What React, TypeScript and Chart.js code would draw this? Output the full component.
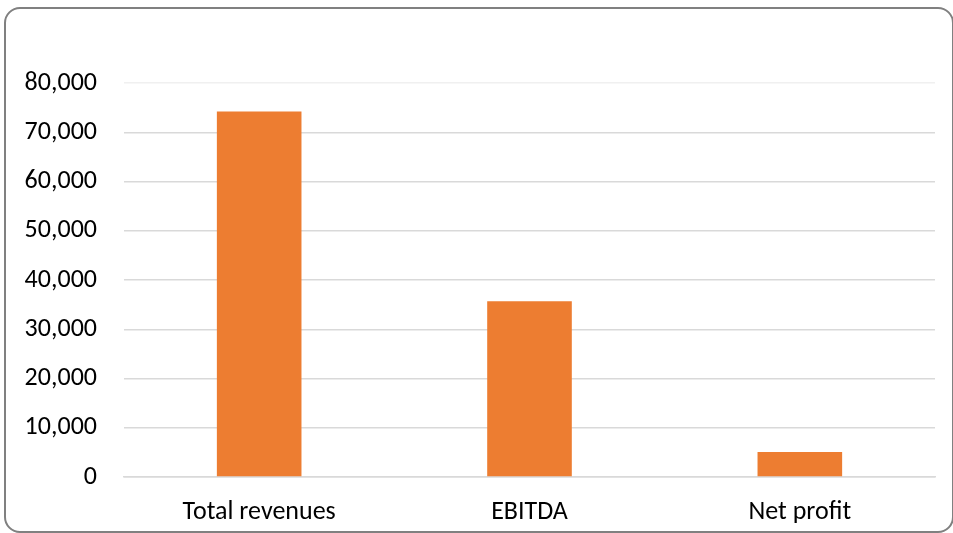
import React, { useEffect, useRef } from "react";
import { Chart, registerables } from "chart.js";

Chart.register(...registerables);

const categories: string[] = ["Total revenues", "EBITDA", "Net profit"];
const values: number[] = [74200, 35700, 5100];
const yMin = 0;
const yMax = 80000;
const yStep = 10000;

const FONT = "Calibri, Carlito, Lato, 'Liberation Sans', sans-serif";

export default function App() {
  const ref = useRef<HTMLCanvasElement | null>(null);

  useEffect(() => {
    if (!ref.current) return;
    const chart = new Chart(ref.current, {
      type: "bar",
      data: {
        labels: categories,
        datasets: [
          {
            data: values,
            backgroundColor: "#ED7D31",
            borderWidth: 0,
            barPercentage: 0.313,
            categoryPercentage: 1,
          },
        ],
      },
      options: {
        responsive: false,
        animation: false,
        devicePixelRatio: 1,
        layout: { padding: { top: 83, right: 18, left: 0, bottom: 0 } },
        plugins: {
          legend: { display: false },
          tooltip: { enabled: false },
          title: { display: false },
        },
        scales: {
          x: {
            grid: { display: false, drawTicks: false },
            border: { display: true, color: "#D9D9D9", width: 1.5 },
            ticks: {
              color: "#000000",
              padding: 20,
              font: { family: FONT, size: 26 },
            },
            afterFit: (s: any) => {
              s.height = 56;
            },
          },
          y: {
            min: yMin,
            max: yMax,
            grid: {
              color: (ctx: any) => (ctx.tick && ctx.tick.value === yMax ? "#F0F0F0" : "#D9D9D9"),
              lineWidth: 1.5,
              drawTicks: false,
            },
            border: { display: false },
            ticks: {
              stepSize: yStep,
              color: "#000000",
              padding: 27,
              font: { family: FONT, size: 26 },
              callback: (v: any) => Number(v).toLocaleString("en-US"),
            },
            afterFit: (s: any) => {
              s.width = 124;
            },
          },
        },
      },
    });
    return () => chart.destroy();
  }, []);

  return (
    <div style={{ position: "fixed", left: 0, top: 0, width: 953, height: 533, background: "#fff", overflow: "hidden" }}>
      <div
        style={{
          position: "absolute",
          left: 4,
          top: 7,
          width: 950,
          height: 526,
          boxSizing: "border-box",
          border: "2px solid #808080",
          borderRadius: 16,
        }}
      />
      <canvas ref={ref} width={953} height={533} style={{ position: "absolute", left: 0, top: 0, width: 953, height: 533 }} />
    </div>
  );
}
